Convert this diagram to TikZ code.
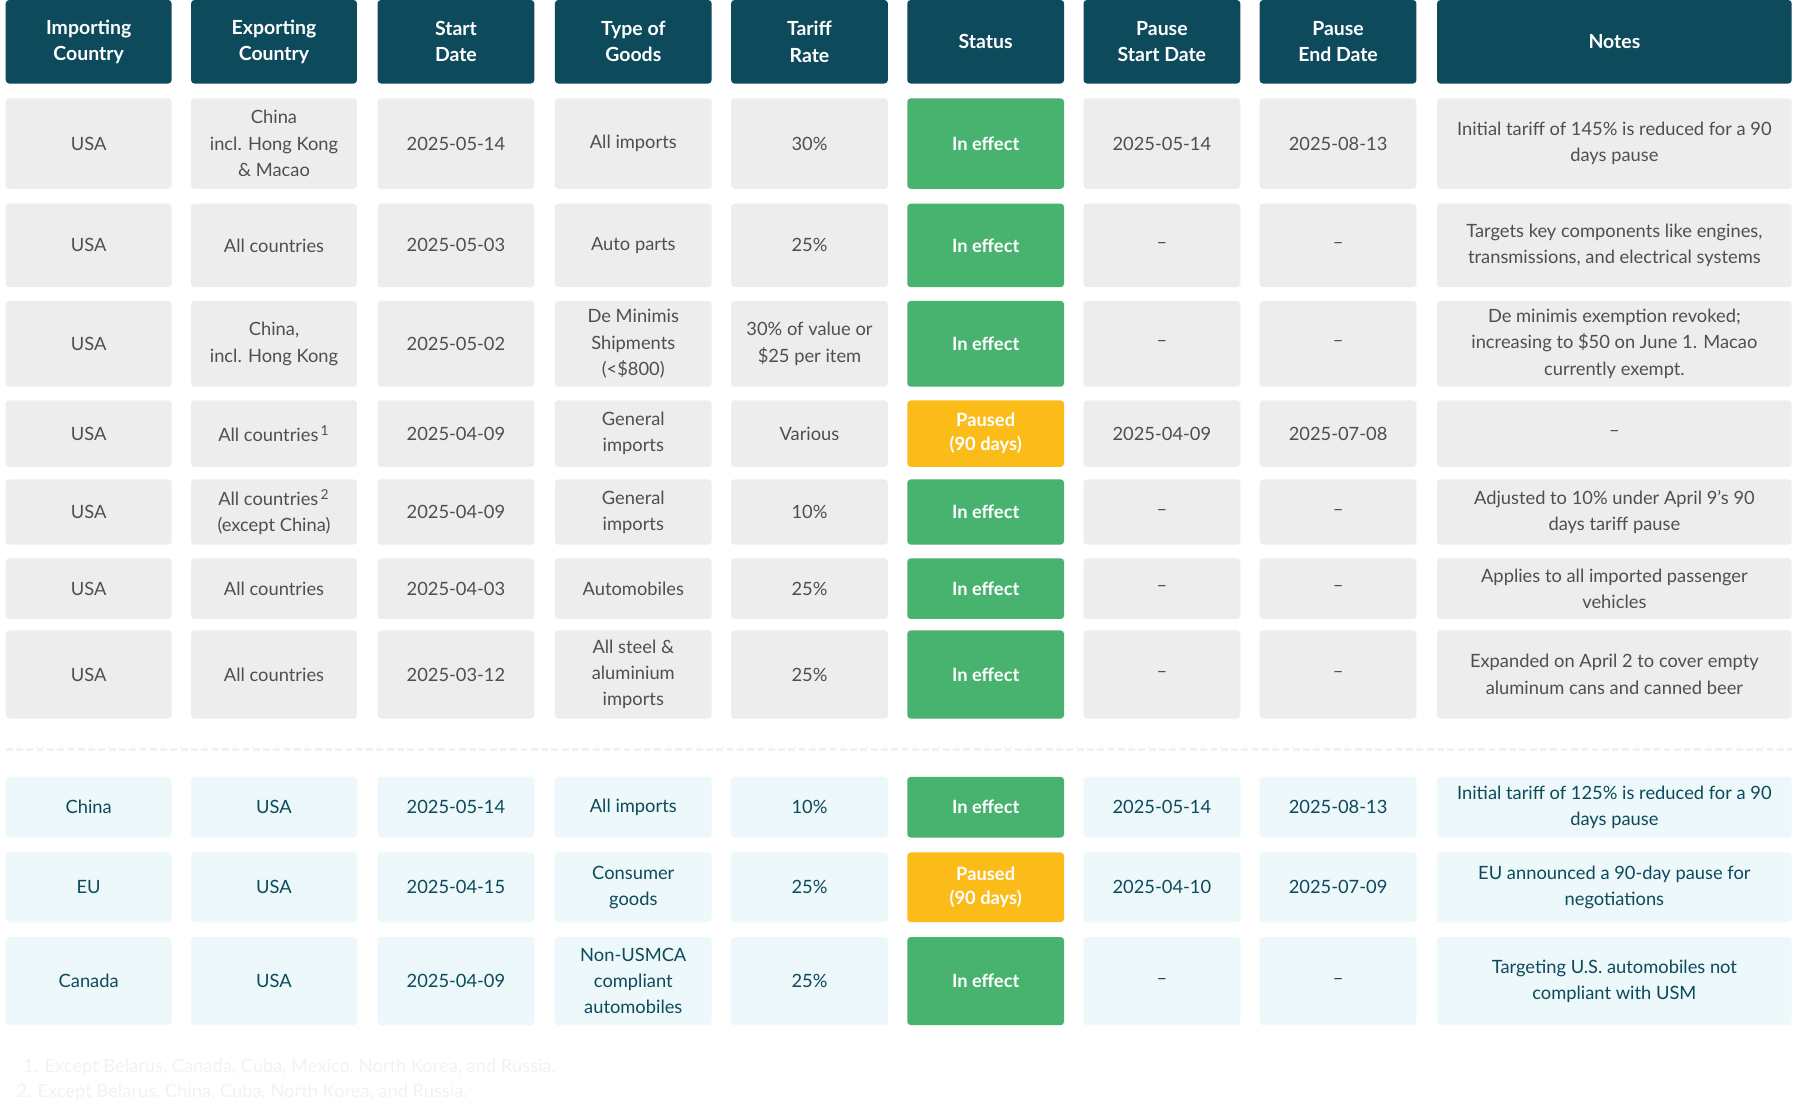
\documentclass[tikz,border=0pt]{standalone}
\usepackage{fontspec}
\setmainfont{Lato}
\definecolor{headteal}{HTML}{0D4A5C}
\definecolor{cellgray}{HTML}{EDEDED}
\definecolor{textgray}{HTML}{4F4F4F}
\definecolor{celllight}{HTML}{ECF8F9}
\definecolor{okgreen}{HTML}{48B26F}
\definecolor{pauseyellow}{HTML}{FBBC1A}
\definecolor{notefaint}{HTML}{EEF4F6}

% column centres and widths
\def\colx{{77.5,239.5,398.5,553.5,707.5,861.5,1015.5,1169.5,1411}}
\def\colw{{145,145,137,137,137,137,137,137,310}}

% one table row: name, top, bottom, cell style, status style, texts
\newcommand\tabrow[6]{%
  \foreach [count=\c] \t in {#6}
  {
    \pgfmathsetmacro{\cx}{\colx[\c-1]}
    \pgfmathsetmacro{\cw}{\colw[\c-1]*0.5}
    \pgfmathsetmacro{\ch}{(#3-#2)*0.5}
    \ifnum\c=6 \def\st{#5}\else\def\st{#4}\fi
    \node [cellbox, \st, minimum width=\cw pt, minimum height=\ch pt]
      (#1-\c) at (\cx,{(#2+#3)/2}) {\t};
  }
}

\begin{document}
\begin{tikzpicture}[x=0.5pt, y=-0.5pt,
  cellbox/.style={rounded corners=1.5pt, inner sep=0pt, align=center,
    font=\fontsize{8}{11.5}\selectfont},
  headcell/.style={fill=headteal, text=white,
    font=\fontsize{8.5}{11.5}\selectfont\bfseries},
  graycell/.style={fill=cellgray, text=textgray},
  lightcell/.style={fill=celllight, text=headteal},
  effect/.style={fill=okgreen, text=white, font=\fontsize{8}{10.5}\selectfont\bfseries},
  paused/.style={fill=pauseyellow, text=white, font=\fontsize{8}{10.5}\selectfont\bfseries},
  footnote/.style={text=notefaint, anchor=west, inner sep=0pt,
    font=\fontsize{8}{10}\selectfont}]

  \useasboundingbox [fill=white] (0,0) rectangle (1568,969.3);

  % Header
  \tabrow{hd}{0}{73}{headcell}{headcell}{{Importing\\Country},{Exporting\\Country},
    {Start\\Date},{Type of\\Goods},{Tariff\\Rate},Status,{Pause\\Start Date},
    {Pause\\End Date},Notes}

  % US tariffs
  \tabrow{ra}{86}{165}{graycell}{effect}{USA,{China\\incl. Hong Kong\\\& Macao},
    2025-05-14,All imports,30\%,In effect,2025-05-14,2025-08-13,
    {Initial tariff of 145\% is reduced for a 90\\days pause}}
  \tabrow{rb}{178}{251}{graycell}{effect}{USA,All countries,2025-05-03,Auto parts,
    25\%,In effect,--,--,{Targets key components like engines,\\transmissions, and electrical systems}}
  \tabrow{rc}{263}{338}{graycell}{effect}{USA,{China,\\incl. Hong Kong},2025-05-02,
    {De Minimis\\Shipments\\(<\$800)},{30\% of value or\\\$25 per item},In effect,--,--,
    {De minimis exemption revoked;\\increasing to \$50 on June 1. Macao\\currently exempt.}}
  \tabrow{rd}{350}{408}{graycell}{paused}{USA,All countries\textsuperscript{\,1},
    2025-04-09,{General\\imports},Various,{Paused\\(90 days)},2025-04-09,2025-07-08,--}
  \tabrow{re}{419}{476}{graycell}{effect}{USA,{All countries\textsuperscript{\,2}\\(except China)},
    2025-04-09,{General\\imports},10\%,In effect,--,--,
    {Adjusted to 10\% under April 9's 90\\days tariff pause}}
  \tabrow{rf}{488}{541}{graycell}{effect}{USA,All countries,2025-04-03,Automobiles,
    25\%,In effect,--,--,{Applies to all imported passenger\\vehicles}}
  \tabrow{rg}{551}{628}{graycell}{effect}{USA,All countries,2025-03-12,
    {All steel \&\\aluminium\\imports},25\%,In effect,--,--,
    {Expanded on April 2 to cover empty\\aluminum cans and canned beer}}

  % Separator
  \draw [notefaint, line width=1.2pt, dash pattern=on 3pt off 1.5pt] (5,655) -- (1566,655);

  % Retaliatory tariffs
  \tabrow{rh}{679}{732}{lightcell}{effect}{China,USA,2025-05-14,All imports,10\%,
    In effect,2025-05-14,2025-08-13,{Initial tariff of 125\% is reduced for a 90\\days pause}}
  \tabrow{ri}{745}{806}{lightcell}{paused}{EU,USA,2025-04-15,{Consumer\\goods},25\%,
    {Paused\\(90 days)},2025-04-10,2025-07-09,{EU announced a 90-day pause for\\negotiations}}
  \tabrow{rj}{819}{896}{lightcell}{effect}{Canada,USA,2025-04-09,
    {Non-USMCA\\compliant\\automobiles},25\%,In effect,--,--,
    {Targeting U.S. automobiles not\\compliant with USM}}

  % Footnotes
  \node [footnote] (fn1) at (20,933) {1. Except Belarus, Canada, Cuba, Mexico, North Korea, and Russia.};
  \node [footnote] (fn2) at (14,955) {2. Except Belarus, China, Cuba, North Korea, and Russia.};

\end{tikzpicture}
\end{document}
